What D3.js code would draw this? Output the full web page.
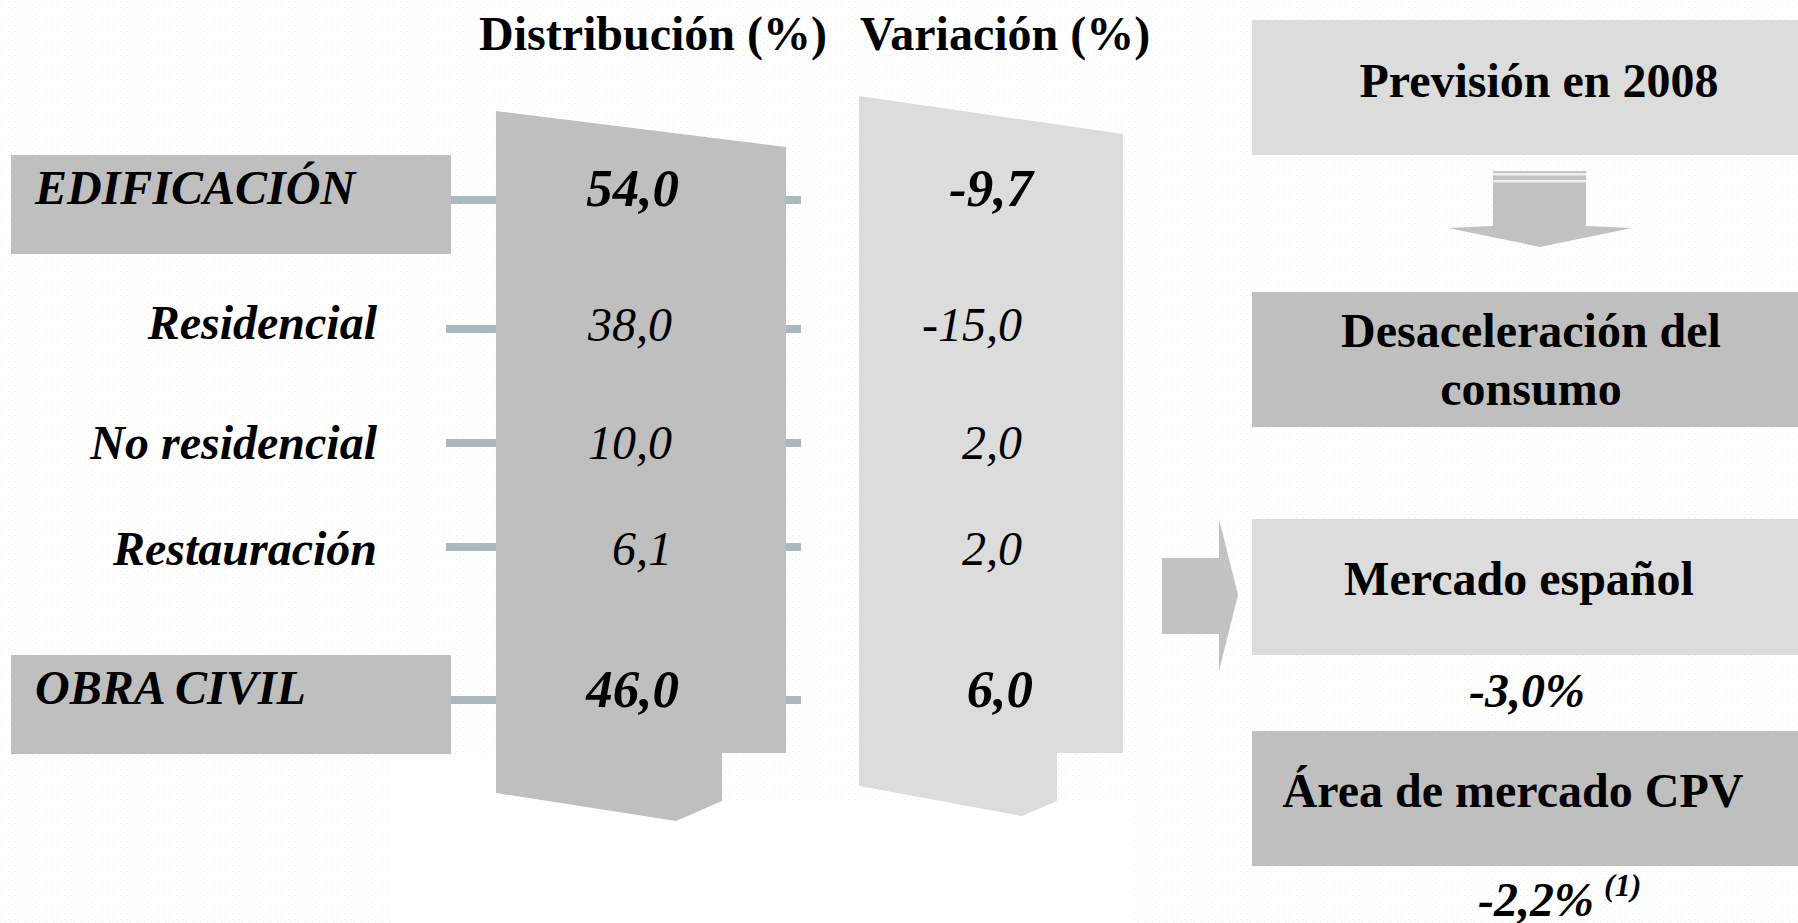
<!DOCTYPE html>
<html><head><meta charset="utf-8">
<script src="https://cdn.jsdelivr.net/npm/d3@7/dist/d3.min.js"></script>
<style>html,body{margin:0;padding:0;background:#fff;overflow:hidden}</style>
</head><body><div id="chart"></div>
<script>
// ---- data ----
const categories = ["EDIFICACIÓN", "Residencial", "No residencial", "Restauración", "OBRA CIVIL"];
const isMajor = [true, false, false, false, true];
const distribucion = [54.0, 38.0, 10.0, 6.1, 46.0];
const variacion = [-9.7, -15.0, 2.0, 2.0, 6.0];
const columnTitles = ["Distribución (%)", "Variación (%)"];
const flowBoxes = ["Previsión en 2008", "Desaceleración del|consumo", "Mercado español", "Área de mercado CPV"];
const mercadoEspanol = -3.0;
const areaCPV = -2.2;
const footnote = "(1)";

// ---- layout ----
const W = 1798, H = 923;
const FONT = "'Liberation Serif','Times New Roman',Times,serif";
const DARK = "#bfbfbf", LIGHT = "#dcdcdc", CONN = "#a9b9bf";
const fmt = v => d3.format(".1f")(v).replace(".", ",").replace("−", "-");

const svg = d3.select("#chart").append("svg").attr("width", W).attr("height", H)
  .style("font-family", FONT);

// background texture (very faint)
const defs = svg.append("defs");
const pat = defs.append("pattern").attr("id", "tex").attr("width", 7).attr("height", 6)
  .attr("patternUnits", "userSpaceOnUse");
pat.append("rect").attr("width", 7).attr("height", 6).attr("fill", "#ffffff");
pat.append("rect").attr("x", 1).attr("y", 1).attr("width", 1).attr("height", 1).attr("fill", "#f9e6e6");
pat.append("rect").attr("x", 4).attr("y", 4).attr("width", 1).attr("height", 1).attr("fill", "#f5eded");
svg.append("rect").attr("width", W).attr("height", H).attr("fill", "url(#tex)");
svg.append("path").attr("fill", "#fff")
  .attr("d", "M390,756 L500,756 L500,800 L1135,800 L1135,923 L390,923 Z");

// scales
const rowIdx = d3.range(categories.length);
const yConn = d3.scaleLinear().domain(rowIdx).range([200, 329, 443, 547, 700]);
const yLabel = d3.scaleLinear().domain(rowIdx).range([204, 339, 459, 565, 704]);
const yVal = d3.scaleLinear().domain(rowIdx).range([206, 341, 459, 565, 707]);

const cols = [
  {L: 496, R: 786, tl: 111, tr: 147, step: 753, nx: 722, nb: 801, tipX: 676, tipY: 821, bl: 793, fill: DARK, titleX: 479, valXMajor: 679, valXMinor: 672},
  {L: 859, R: 1123, tl: 96, tr: 134, step: 753, nx: 1057, nb: 801, tipX: 1022, tipY: 816, bl: 786, fill: LIGHT, titleX: 860, valXMajor: 1033, valXMinor: 1022}
];
const line = d3.line();

// connectors
rowIdx.forEach(i => {
  svg.append("rect").attr("x", 446).attr("y", yConn(i) - 4).attr("width", 52).attr("height", 8).attr("fill", CONN);
  svg.append("rect").attr("x", 785).attr("y", yConn(i) - 4).attr("width", 16).attr("height", 8).attr("fill", CONN);
});

// columns
cols.forEach(c => {
  svg.append("path").attr("fill", c.fill).attr("d", line([
    [c.L, c.tl], [c.R, c.tr], [c.R, c.step], [c.nx, c.step], [c.nx, c.nb],
    [c.tipX, c.tipY], [c.L, c.bl]
  ]) + "Z");
});

// titles
columnTitles.forEach((t, j) => {
  svg.append("text").attr("x", cols[j].titleX).attr("y", 50).attr("font-size", 48)
    .attr("font-weight", "bold").text(t);
});

// category boxes + labels
rowIdx.forEach(i => {
  if (isMajor[i]) {
    svg.append("rect").attr("x", 11).attr("y", yConn(i) - 45).attr("width", 440).attr("height", 99).attr("fill", DARK);
    svg.append("text").attr("x", 35).attr("y", yLabel(i)).attr("font-size", 48)
      .attr("font-weight", "bold").attr("font-style", "italic").text(categories[i]);
  } else {
    svg.append("text").attr("x", 377).attr("y", yLabel(i)).attr("text-anchor", "end").attr("font-size", 48)
      .attr("font-weight", "bold").attr("font-style", "italic").text(categories[i]);
  }
});

// values
[distribucion, variacion].forEach((arr, j) => {
  arr.forEach((v, i) => {
    svg.append("text").attr("x", isMajor[i] ? cols[j].valXMajor : cols[j].valXMinor).attr("y", yVal(i))
      .attr("text-anchor", "end")
      .attr("font-size", isMajor[i] ? 53 : 48)
      .attr("font-weight", isMajor[i] ? "bold" : "normal")
      .attr("font-style", "italic").text(fmt(v));
  });
});

// right flow
const bx = 1252;
const boxes = [
  {y0: 20, y1: 155, fill: LIGHT, cx: 1539, lines: [97]},
  {y0: 292, y1: 427, fill: DARK, cx: 1531, lines: [347, 405]},
  {y0: 519, y1: 655, fill: LIGHT, cx: 1519, lines: [595]},
  {y0: 731, y1: 866, fill: DARK, cx: 1513, lines: [807]}
];
boxes.forEach((b, k) => {
  svg.append("rect").attr("x", bx).attr("y", b.y0).attr("width", W - bx).attr("height", b.y1 - b.y0).attr("fill", b.fill);
  flowBoxes[k].split("|").forEach((t, li) => {
    svg.append("text").attr("x", b.cx).attr("y", b.lines[li]).attr("text-anchor", "middle")
      .attr("font-size", 48).attr("font-weight", "bold").text(t);
  });
});

// down arrow
const g1 = svg.append("g");
g1.append("path").attr("fill", "#c2c2c2").attr("d", line([
  [1493, 171], [1586, 171], [1586, 226], [1632, 228], [1540, 247], [1448, 228], [1493, 226]
]) + "Z");
g1.append("rect").attr("x", 1493).attr("y", 173).attr("width", 93).attr("height", 2.5).attr("fill", "#efefef");
g1.append("rect").attr("x", 1493).attr("y", 180).attr("width", 93).attr("height", 2.5).attr("fill", "#efefef");

// right arrow
svg.append("path").attr("fill", "#c2c2c2").attr("d", line([
  [1162, 558], [1219, 558], [1219, 519], [1238, 595], [1219, 671], [1219, 634], [1162, 634]
]) + "Z");

// percentages
svg.append("text").attr("x", 1527).attr("y", 707).attr("text-anchor", "middle").attr("font-size", 48)
  .attr("font-weight", "bold").attr("font-style", "italic").text(fmt(mercadoEspanol) + "%");
const t2 = svg.append("text").attr("x", 1478).attr("y", 916).attr("font-size", 48)
  .attr("font-weight", "bold").attr("font-style", "italic");
t2.append("tspan").text(fmt(areaCPV) + "%");
t2.append("tspan").attr("dx", 10).attr("dy", -20).attr("font-size", 32).text(footnote);
</script></body></html>
